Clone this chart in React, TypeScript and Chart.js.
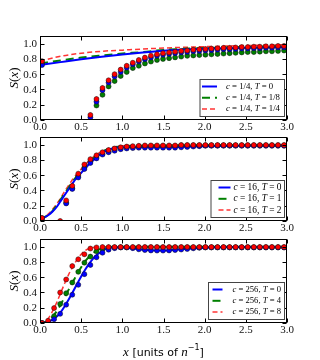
import React, { useEffect, useRef } from "react";
import { Chart, registerables } from "chart.js";
Chart.register(...registerables);

// shared x positions of the simulation points
const PX = [0.024, 0.098, 0.171, 0.245, 0.318, 0.392, 0.465, 0.539, 0.612, 0.686, 0.759, 0.833, 0.906, 0.98, 1.053, 1.127, 1.2, 1.274, 1.347, 1.421, 1.494, 1.568, 1.641, 1.715, 1.788, 1.862, 1.935, 2.009, 2.082, 2.156, 2.229, 2.303, 2.376, 2.45, 2.523, 2.597, 2.67, 2.744, 2.817, 2.891, 2.964];

// Panel 1: c = 1/4
const L1_X = [0, 0.25, 0.5, 0.75, 1.0, 1.25, 1.5, 1.75, 2.0, 2.25, 2.5, 2.75, 3.0];
const L1_B = [0.72, 0.758, 0.795, 0.828, 0.857, 0.885, 0.908, 0.922, 0.933, 0.941, 0.947, 0.951, 0.953];
const L1_G = [0.74, 0.78, 0.817, 0.845, 0.87, 0.89, 0.918, 0.932, 0.942, 0.95, 0.957, 0.963, 0.968];
const L1_R = [0.77, 0.835, 0.874, 0.9, 0.915, 0.93, 0.942, 0.952, 0.96, 0.968, 0.975, 0.982, 0.985];
const P1_B = [0.72, null, null, null, null, null, null, null, 0.035, 0.24, 0.39, 0.49, 0.57, 0.63, 0.685, 0.73, 0.765, 0.795, 0.817, 0.84, 0.855, 0.865, 0.875, 0.885, 0.89, 0.9, 0.905, 0.91, 0.915, 0.92, 0.925, 0.925, 0.93, 0.935, 0.935, 0.94, 0.94, 0.945, 0.945, 0.95, 0.95];
const P1_G = [0.745, null, null, null, null, null, null, null, null, 0.19, 0.33, 0.44, 0.51, 0.577, 0.63, 0.68, 0.71, 0.74, 0.765, 0.786, 0.8, 0.81, 0.82, 0.83, 0.84, 0.845, 0.85, 0.855, 0.86, 0.865, 0.87, 0.875, 0.88, 0.885, 0.89, 0.89, 0.895, 0.9, 0.9, 0.905, 0.91];
const P1_R = [0.77, null, null, null, null, null, null, null, 0.066, 0.275, 0.42, 0.52, 0.6, 0.66, 0.71, 0.75, 0.786, 0.817, 0.843, 0.86, 0.875, 0.885, 0.895, 0.905, 0.91, 0.92, 0.925, 0.93, 0.935, 0.94, 0.945, 0.945, 0.95, 0.955, 0.955, 0.96, 0.96, 0.965, 0.965, 0.97, 0.97];
const LEG1 = ["c = 1/4, T = 0", "c = 1/4, T = 1/8", "c = 1/4, T = 1/4"];

// Panel 2: c = 16
const L2_X = [0, 0.05, 0.1, 0.15, 0.2, 0.25, 0.3, 0.35, 0.4, 0.45, 0.5, 0.55, 0.6, 0.65, 0.7, 0.75, 0.8, 0.85, 0.9, 0.95, 1.0, 1.1, 1.2, 1.4, 1.6, 1.8, 2.0, 2.5, 3.0];
const L2_B = [0.03, 0.045, 0.075, 0.12, 0.18, 0.26, 0.34, 0.42, 0.5, 0.57, 0.63, 0.69, 0.75, 0.8, 0.85, 0.89, 0.92, 0.94, 0.955, 0.963, 0.967, 0.968, 0.966, 0.965, 0.967, 0.972, 0.978, 0.985, 0.987];
const L2_G = [0.03, 0.048, 0.08, 0.13, 0.2, 0.28, 0.36, 0.44, 0.52, 0.59, 0.65, 0.71, 0.77, 0.82, 0.86, 0.9, 0.93, 0.95, 0.963, 0.972, 0.977, 0.982, 0.984, 0.986, 0.988, 0.99, 0.991, 0.992, 0.993];
const L2_R = [0.03, 0.05, 0.09, 0.15, 0.22, 0.3, 0.39, 0.47, 0.55, 0.62, 0.68, 0.74, 0.79, 0.84, 0.88, 0.91, 0.935, 0.955, 0.97, 0.978, 0.984, 0.99, 0.992, 0.994, 0.995, 0.996, 0.996, 0.996, 0.996];
const P2_B = [0.03, null, null, null, 0.23, 0.42, 0.57, 0.68, 0.76, 0.82, 0.87, 0.9, 0.92, 0.94, 0.95, 0.955, 0.96, 0.96, 0.96, 0.96, 0.96, 0.96, 0.96, 0.965, 0.97, 0.975, 0.98, 0.985, 0.985, 0.985, 0.985, 0.985, 0.985, 0.985, 0.985, 0.985, 0.985, 0.985, 0.985, 0.985, 0.985];
const P2_G = [0.035, null, null, null, 0.24, 0.43, 0.59, 0.7, 0.78, 0.84, 0.88, 0.91, 0.935, 0.955, 0.965, 0.97, 0.975, 0.98, 0.98, 0.98, 0.98, 0.98, 0.98, 0.99, 0.99, 0.99, 0.99, 0.99, 0.99, 0.99, 0.99, 0.99, 0.99, 0.99, 0.99, 0.99, 0.99, 0.99, 0.99, 0.99, 0.99];
const P2_R = [0.04, null, null, 0.0, 0.27, 0.46, 0.62, 0.74, 0.81, 0.86, 0.9, 0.93, 0.95, 0.965, 0.975, 0.98, 0.985, 0.99, 0.99, 0.99, 0.99, 0.99, 0.99, 0.995, 0.995, 0.995, 0.995, 0.995, 0.995, 0.995, 0.995, 0.995, 0.995, 0.995, 0.995, 0.995, 0.995, 0.995, 0.995, 0.995, 0.995];
const LEG2 = ["c = 16, T = 0", "c = 16, T = 1", "c = 16, T = 2"];

// Panel 3: c = 256
const L3_X = [0, 0.05, 0.1, 0.15, 0.2, 0.25, 0.3, 0.35, 0.4, 0.45, 0.5, 0.55, 0.6, 0.65, 0.7, 0.75, 0.8, 0.85, 0.9, 1.0, 1.1, 1.2, 1.3, 1.4, 1.5, 1.6, 1.7, 1.8, 1.9, 2.0, 2.5, 3.0];
const L3_B = [0, 0.003, 0.015, 0.04, 0.08, 0.14, 0.22, 0.31, 0.41, 0.51, 0.61, 0.7, 0.78, 0.85, 0.9, 0.94, 0.97, 0.985, 0.99, 0.99, 0.98, 0.965, 0.955, 0.95, 0.95, 0.955, 0.963, 0.972, 0.98, 0.987, 0.995, 0.995];
const L3_G = [0, 0.005, 0.03, 0.08, 0.15, 0.24, 0.34, 0.44, 0.54, 0.64, 0.73, 0.81, 0.87, 0.92, 0.955, 0.975, 0.99, 0.995, 0.997, 0.997, 0.997, 0.997, 0.997, 0.997, 0.997, 0.997, 0.997, 0.997, 0.997, 0.997, 0.997, 0.997];
const L3_R = [0, 0.01, 0.06, 0.15, 0.26, 0.39, 0.52, 0.64, 0.74, 0.83, 0.9, 0.95, 0.975, 0.99, 0.995, 0.997, 0.997, 0.997, 0.997, 0.997, 0.997, 0.997, 0.997, 0.997, 0.997, 0.997, 0.997, 0.997, 0.997, 0.997, 0.997, 0.997];
const P3_B = [0, 0, 0.05, 0.12, 0.24, 0.37, 0.5, 0.64, 0.76, 0.86, 0.92, 0.96, 0.98, 0.99, 0.99, 0.98, 0.965, 0.955, 0.95, 0.948, 0.948, 0.95, 0.955, 0.962, 0.97, 0.978, 0.985, 0.99, 0.99, 0.99, 0.99, 0.99, 0.99, 0.99, 0.99, 0.99, 0.99, 0.99, 0.99, 0.99, 0.99];
const P3_G = [0, 0, 0.09, 0.25, 0.39, 0.53, 0.67, 0.79, 0.87, 0.94, 0.97, 0.985, 0.99, 0.99, 0.99, 0.99, 0.99, 0.99, 0.99, 0.99, 0.99, 0.99, 0.99, 0.99, 0.99, 0.99, 0.99, 0.99, 0.99, 0.99, 0.99, 0.99, 0.99, 0.99, 0.99, 0.99, 0.99, 0.99, 0.99, 0.99, 0.99];
const P3_R = [0, 0.03, 0.195, 0.4, 0.57, 0.745, 0.835, 0.9, 0.975, 0.99, 0.995, 0.995, 0.995, 0.995, 0.995, 0.995, 0.995, 0.995, 0.995, 0.995, 0.995, 0.995, 0.995, 0.995, 0.995, 0.995, 0.995, 0.995, 0.995, 0.995, 0.995, 0.995, 0.995, 0.995, 0.995, 0.995, 0.995, 0.995, 0.995, 0.995, 0.995];
const LEG3 = ["c = 256, T = 0", "c = 256, T = 4", "c = 256, T = 8"];

const X_TICKS = [0, 0.5, 1.0, 1.5, 2.0, 2.5, 3.0];
const Y_TICKS = [0, 0.2, 0.4, 0.6, 0.8, 1.0];
const ERR = 0.03;
const X_MIN = 0, X_MAX = 3;
const Y_MIN = 0, Y_MAX = 1.1;

const STYLES = [
  { color: "#0000ff", dash: [] as number[], width: 2 },
  { color: "#008000", dash: [8, 5], width: 2 },
  { color: "rgba(255,0,0,0.8)", dash: [5, 3], width: 1.5 },
];
const PT_COLORS = ["#0000ff", "#008000", "#ff0000"];

const SERIF = "'Liberation Serif', 'DejaVu Serif', serif";
const SANS = "'DejaVu Sans', sans-serif";

function runsOf(text: string) {
  return text.match(/[A-Za-z]+|[^A-Za-z]+/g) || [];
}
function fontFor(r: string, size: number) {
  return /[A-Za-z]/.test(r) ? `italic ${size}px ${SERIF}` : `${size}px ${SERIF}`;
}
function widthRuns(ctx: CanvasRenderingContext2D, text: string, size: number) {
  let total = 0;
  for (const r of runsOf(text)) { ctx.font = fontFor(r, size); total += ctx.measureText(r).width; }
  return total;
}
function drawRuns(ctx: CanvasRenderingContext2D, text: string, x: number, y: number, size: number, align: "left" | "center") {
  const total = widthRuns(ctx, text, size);
  let cx = align === "center" ? x - total / 2 : x;
  ctx.textBaseline = "middle";
  ctx.textAlign = "left";
  for (const r of runsOf(text)) { ctx.font = fontFor(r, size); ctx.fillText(r, cx, y); cx += ctx.measureText(r).width; }
}

const framePlugin = {
  id: "frame",
  beforeDatasetsDraw(chart: any) {
    const { ctx, chartArea: a, scales } = chart;
    ctx.save();
    ctx.beginPath();
    ctx.rect(a.left, a.top, a.width, a.height);
    ctx.clip();
    ctx.strokeStyle = "#333";
    ctx.lineWidth = 0.8;
    chart.data.datasets.forEach((ds: any) => {
      if (!ds.isPts) return;
      ds.data.forEach((p: any) => {
        const px = scales.x.getPixelForValue(p.x);
        const y1 = scales.y.getPixelForValue(p.y - ERR);
        const y2 = scales.y.getPixelForValue(p.y + ERR);
        ctx.beginPath();
        ctx.moveTo(px, y1);
        ctx.lineTo(px, y2);
        ctx.stroke();
      });
    });
    ctx.restore();
  },
  afterDatasetsDraw(chart: any, _args: any, opts: any) {
    const { ctx, chartArea: a, scales } = chart;
    const L = Math.round(a.left) + 0.5, R = Math.round(a.right) - 0.5;
    const T = Math.round(a.top) + 0.5, B = Math.round(a.bottom) - 0.5;
    ctx.save();
    ctx.strokeStyle = "#000";
    ctx.lineWidth = 1;
    ctx.strokeRect(L, T, R - L, B - T);
    ctx.beginPath();
    X_TICKS.forEach((v) => {
      const px = Math.round(scales.x.getPixelForValue(v)) + 0.5;
      ctx.moveTo(px, B); ctx.lineTo(px, B - 4);
      ctx.moveTo(px, T); ctx.lineTo(px, T + 4);
    });
    Y_TICKS.forEach((v) => {
      const py = Math.round(scales.y.getPixelForValue(v)) + 0.5;
      ctx.moveTo(L, py); ctx.lineTo(L + 4, py);
      ctx.moveTo(R, py); ctx.lineTo(R - 4, py);
    });
    ctx.stroke();
    // tick labels
    ctx.fillStyle = "#111";
    ctx.font = `11px ${SERIF}`;
    ctx.textBaseline = "middle";
    ctx.textAlign = "center";
    X_TICKS.forEach((v) => {
      ctx.fillText(v.toFixed(1), scales.x.getPixelForValue(v), a.bottom + 7);
    });
    ctx.textAlign = "right";
    Y_TICKS.forEach((v) => {
      ctx.fillText(v.toFixed(1), a.left - 3, scales.y.getPixelForValue(v) + 0.5);
    });

    // legend box
    const w = opts.legW, h = 37;
    const right = Math.round(a.right) - 2.5, bottom = Math.round(a.bottom) - 3.5;
    const left = right - w, top = bottom - h;
    ctx.fillStyle = "#fff";
    ctx.fillRect(left, top, w, h);
    ctx.strokeStyle = "#444";
    ctx.lineWidth = 1;
    ctx.strokeRect(left, top, w, h);
    const longest = opts.labels.reduce((m: string, s: string) => (s.length > m.length ? s : m), "");
    const fs = (10 * opts.textW) / widthRuns(ctx, longest, 10);
    opts.labels.forEach((lab: string, i: number) => {
      const y = top + 7 + i * 11.3;
      const st = STYLES[i];
      ctx.strokeStyle = st.color;
      ctx.lineWidth = st.width;
      ctx.setLineDash(st.dash);
      ctx.beginPath();
      ctx.moveTo(left + opts.sampleX, y);
      ctx.lineTo(left + opts.sampleX + opts.sampleLen, y);
      ctx.stroke();
      ctx.setLineDash([]);
      ctx.fillStyle = "#000";
      drawRuns(ctx, lab, left + opts.textX, y, fs, "left");
    });
    // y label
    ctx.save();
    ctx.translate(15, (a.top + a.bottom) / 2);
    ctx.rotate(-Math.PI / 2);
    ctx.fillStyle = "#000";
    drawRuns(ctx, "S(x)", 0, 0, 13, "center");
    ctx.restore();
    // x label
    if (opts.xlabel) {
      const y = opts.xlabelY;
      const parts = [
        { t: "x", f: `italic 13px ${SERIF}`, dy: 0 },
        { t: " [units of ", f: `11px ${SANS}`, dy: 0 },
        { t: "n", f: `italic 13px ${SERIF}`, dy: 0 },
        { t: "\u22121", f: `8px ${SANS}`, dy: -5 },
        { t: "]", f: `11px ${SANS}`, dy: 0 },
      ];
      let total = 0;
      parts.forEach((p) => { ctx.font = p.f; total += ctx.measureText(p.t).width; });
      let cx = (a.left + a.right) / 2 - total / 2;
      ctx.fillStyle = "#000";
      ctx.textBaseline = "middle";
      ctx.textAlign = "left";
      parts.forEach((p) => { ctx.font = p.f; ctx.fillText(p.t, cx, y + p.dy); cx += ctx.measureText(p.t).width; });
    }
    ctx.restore();
  },
};

type PanelProps = {
  top: number; height: number; bottomPad: number;
  lx: number[]; lines: number[][]; pts: (number | null)[][];
  labels: string[]; legW: number; sampleX: number; sampleLen: number; textX: number; textW: number; xlabel?: boolean;
};

function Panel(p: PanelProps) {
  const ref = useRef<HTMLCanvasElement>(null);
  useEffect(() => {
    const lineSets = p.lines.map((ys, i) => ({
      data: p.lx.map((x, j) => ({ x, y: ys[j] })),
      showLine: true,
      pointRadius: 0,
      borderColor: STYLES[i].color,
      borderWidth: STYLES[i].width,
      borderDash: STYLES[i].dash,
      cubicInterpolationMode: "monotone",
      order: 10 + i,
    }));
    const ptOrder = [1, 2, 0];
    const ptSets = p.pts.map((vals, i) => ({
      isPts: true,
      data: PX.map((x, j) => (vals[j] == null ? null : { x, y: vals[j] })).filter(Boolean),
      showLine: false,
      pointRadius: 2.5,
      pointBackgroundColor: PT_COLORS[i],
      pointBorderColor: "#111",
      pointBorderWidth: 0.5,
      order: ptOrder[i],
    }));
    const chart = new Chart(ref.current as HTMLCanvasElement, {
      type: "scatter",
      data: { datasets: [...lineSets, ...ptSets] as any },
      options: {
        animation: false,
        responsive: false,
        maintainAspectRatio: false,
        layout: { padding: { top: 6, right: 33, left: 0, bottom: p.bottomPad } },
        plugins: {
          legend: { display: false },
          tooltip: { enabled: false },
          frame: { labels: p.labels, legW: p.legW, sampleX: p.sampleX, sampleLen: p.sampleLen, textX: p.textX, textW: p.textW, xlabel: p.xlabel, xlabelY: p.height - 10 },
        } as any,
        scales: {
          x: {
            type: "linear", min: X_MIN, max: X_MAX,
            grid: { display: false, drawTicks: false },
            border: { display: false },
            ticks: { display: false },
            afterFit: (s: any) => { s.height = 20; },
          },
          y: {
            type: "linear", min: Y_MIN, max: Y_MAX,
            grid: { display: false, drawTicks: false },
            border: { display: false },
            ticks: { display: false },
            afterFit: (s: any) => { s.width = 40; },
          },
        },
      },
      plugins: [framePlugin],
    });
    return () => chart.destroy();
  }, []);
  return (
    <div style={{ position: "absolute", left: 0, top: p.top, width: 320, height: p.height }}>
      <canvas ref={ref} width={320} height={p.height} style={{ width: 320, height: p.height, display: "block" }} />
    </div>
  );
}

export default function App() {
  return (
    <div style={{ position: "absolute", left: 0, top: 0, width: 320, height: 360, background: "#fff" }}>
      <Panel top={30} height={110} bottomPad={0} lx={L1_X} lines={[L1_B, L1_G, L1_R]} pts={[P1_B, P1_G, P1_R]} labels={LEG1} legW={84.5} sampleX={2} sampleLen={15} textX={26} textW={54} />
      <Panel top={131} height={110} bottomPad={0} lx={L2_X} lines={[L2_B, L2_G, L2_R]} pts={[P2_B, P2_G, P2_R]} labels={LEG2} legW={73.5} sampleX={7.5} sampleLen={12} textX={22.5} textW={48} />
      <Panel top={233} height={130} bottomPad={20} lx={L3_X} lines={[L3_B, L3_G, L3_R]} pts={[P3_B, P3_G, P3_R]} labels={LEG3} legW={76} sampleX={4} sampleLen={10} textX={24} textW={48.5} xlabel />
    </div>
  );
}
